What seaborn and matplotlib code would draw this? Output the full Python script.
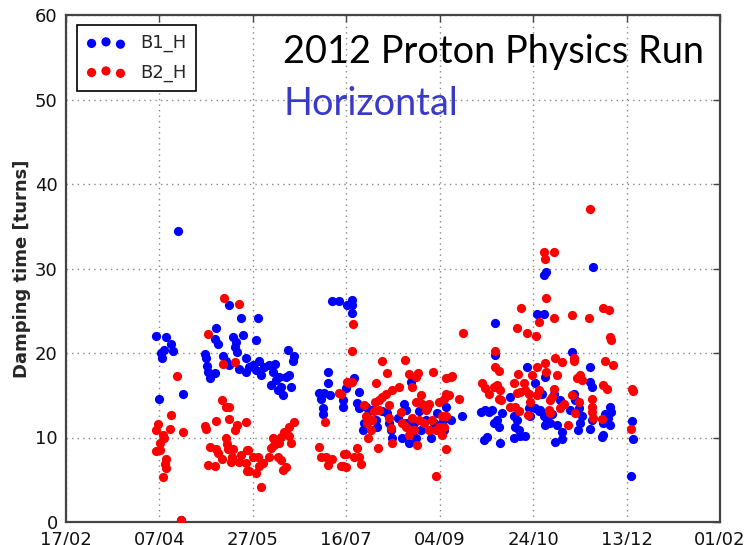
import numpy as np
import pandas as pd
import matplotlib
matplotlib.use("Agg")
import matplotlib.pyplot as plt
import matplotlib.dates as mdates
import seaborn as sns

# ---------------- data (day offset from 2012-02-17, damping time) -------------
start_date = "2012-02-17"
tick_labels = ["17/02", "07/04", "27/05", "16/07", "04/09", "24/10", "13/12", "01/02"]
series_names = ["B1_H", "B2_H"]

b1_day = [59.9, 48.4, 53.7, 56.4, 57.3, 52.3, 51.6, 51.0, 49.8, 62.6, 61.4,
          80.4, 87.1, 93.8, 80.0, 81.3, 89.3, 91.1, 90.2, 91.6, 94.6, 74.2, 75.1,
          75.4, 75.9, 76.8, 79.5, 83.9, 85.4, 87.5, 92.5, 96.4, 96.4, 102.6, 101.8,
          98.2, 99.9, 101.8, 103.5, 104.4, 106.2, 108.9, 110.6, 112.1, 109.8, 112.4,
          114.2, 115.1, 116.0, 117.8, 119.5, 120.4, 118.6, 122.2, 121.3, 113.3,
          142.6, 146.2, 150.6, 140.0, 140.0, 135.5, 136.4, 138.2, 141.2, 137.3, 137.7,
          148.0, 148.0, 149.8, 153.3, 153.3, 153.0, 154.2, 156.9, 156.0, 156.9,
          160.4, 162.2, 164.0, 159.6, 158.7, 165.8, 166.6, 169.3, 172.0, 172.9, 173.8,
          174.3, 177.9, 180.9, 181.8, 181.8, 180.0, 183.6, 184.4, 186.2, 188.9, 187.1,
          189.8, 192.4, 193.3, 195.6, 196.9, 198.7, 201.3, 202.2, 203.1, 184.4,
          229.8, 252.0, 255.6, 256.8, 229.8, 246.7, 256.5, 204.0, 205.8, 212.0, 224.5,
          222.3, 226.2, 228.0, 230.7, 231.6, 228.9, 225.3, 223.6, 232.0, 233.4, 237.8,
          239.6, 241.3, 240.4, 242.3, 243.2, 240.0, 245.8, 247.6, 248.5, 251.1, 252.9,
          256.5, 256.5, 251.1, 282.3, 255.6, 270.7, 280.5, 280.5, 281.4, 254.7, 260.9,
          264.5, 271.6, 272.5, 269.5, 274.3, 276.0, 275.2, 273.9, 253.8, 255.6, 257.4,
          259.2, 260.0, 262.7, 265.3, 261.8, 265.7, 280.5, 281.4, 287.6, 287.6, 286.7,
          291.2, 291.7, 290.3, 291.2, 288.5, 302.7, 303.3, 302.4]
b1_val = [34.4, 22.0, 21.9, 21.1, 20.2, 20.4, 19.4, 20.0, 14.6, 15.1, 0.2,
          22.9, 25.7, 24.2, 21.7, 21.1, 21.9, 21.3, 20.7, 20.1, 22.1, 19.9, 19.4,
          18.5, 17.8, 17.0, 17.6, 19.6, 19.0, 18.6, 18.1, 19.4, 17.8, 24.1, 21.5,
          18.4, 18.6, 18.0, 19.0, 17.4, 18.4, 18.6, 17.7, 18.7, 16.2, 16.8,
          17.2, 16.0, 15.0, 17.2, 17.4, 16.0, 20.4, 19.6, 19.1, 15.6,
          26.2, 26.2, 25.7, 17.8, 16.4, 15.3, 14.5, 15.3, 15.0, 13.5, 12.8,
          14.4, 13.6, 15.8, 26.3, 25.7, 24.7, 17.0, 15.4, 14.1, 13.5,
          13.6, 13.1, 13.3, 11.7, 10.9, 12.1, 11.2, 13.1, 12.9, 11.7, 10.9,
          9.9, 12.3, 14.0, 13.3, 11.7, 9.9, 9.3, 10.5, 11.7, 13.1, 9.9,
          10.9, 12.1, 13.5, 9.9, 11.7, 12.9, 11.7, 10.9, 13.6, 16.6,
          23.6, 24.6, 24.6, 29.6, 19.8, 18.3, 17.2, 12.3, 12.1, 12.5, 13.3,
          13.0, 13.0, 13.3, 12.1, 11.3, 11.7, 10.1, 9.7, 9.4, 12.9, 14.8,
          12.5, 12.1, 11.3, 10.9, 10.2, 9.9, 10.2, 13.5, 12.5, 13.5, 13.1,
          12.7, 11.5, 16.4, 30.2, 29.2, 20.1, 18.4, 16.6, 16.0, 15.2, 15.1,
          14.4, 15.1, 14.4, 13.3, 13.5, 12.5, 11.7, 10.9, 13.3, 12.5, 12.1,
          11.7, 12.8, 11.5, 10.6, 9.5, 9.8, 11.0, 12.1, 11.7, 10.3, 10.1,
          13.6, 13.0, 12.3, 11.5, 12.8, 11.9, 9.8, 5.5]

b2_day = [59.6, 56.4, 55.5, 62.6, 49.3, 48.4, 51.8, 52.3, 50.2, 48.4, 50.5, 53.7,
          52.8, 53.7, 51.9, 61.4, 84.5, 92.5, 75.9, 83.9, 90.2, 83.6, 85.4, 87.5,
          80.4, 87.1, 74.2, 75.1, 91.6, 90.7, 96.4, 85.4, 86.1, 86.6, 76.8, 80.4,
          81.3, 89.6, 89.0, 93.8, 96.7, 83.6, 88.4, 92.8, 75.9, 79.5, 96.7, 104.4,
          138.7, 146.2, 150.6, 135.5, 136.4, 139.1, 140.0, 142.6, 147.1, 149.8,
          97.3, 99.9, 96.4, 98.2, 102.6, 103.5, 105.3, 101.8, 109.8, 110.6, 111.5,
          114.2, 115.1, 116.9, 119.2, 120.4, 122.2, 119.5, 113.3, 115.1, 116.0,
          117.8, 108.9, 153.7, 153.3, 151.5, 153.3, 147.1, 148.9, 148.0, 149.8,
          154.2, 156.0, 156.9, 157.8, 169.0, 181.4, 172.0, 165.8, 183.6, 188.6,
          187.4, 196.5, 203.5, 178.2, 174.7, 185.3, 189.8, 187.1, 171.1, 169.3,
          167.6, 165.4, 172.9, 190.7, 192.4, 194.2, 199.6, 202.2, 203.5, 159.6,
          160.4, 161.3, 163.1, 164.0, 164.9, 167.6, 172.9, 173.8, 174.7, 179.1,
          180.0, 181.8, 183.6, 185.3, 188.9, 186.2, 191.6, 194.2, 196.0, 197.8,
          199.6, 203.1, 161.8, 167.1, 188.0, 197.8, 212.5, 255.6, 256.1, 256.8,
          243.7, 241.3, 246.7, 251.5, 252.9, 229.8, 229.8, 231.6, 241.9, 239.6,
          249.3, 252.0, 256.5, 256.8, 222.7, 224.5, 226.2, 228.9, 230.7, 232.5,
          231.6, 233.0, 244.9, 245.8, 247.6, 252.9, 243.2, 241.3, 237.8, 240.4,
          248.5, 252.0, 210.2, 205.8, 206.7, 204.9, 201.3, 202.2, 201.3, 203.1,
          242.3, 247.2, 280.5, 260.9, 260.9, 270.7, 280.0, 287.6, 290.8, 291.2,
          291.7, 261.8, 265.3, 271.6, 272.1, 273.4, 275.2, 276.0, 288.5, 293.0,
          262.7, 287.6, 289.4, 302.7, 303.6, 260.9, 260.0, 270.7, 274.3, 259.2,
          258.4, 259.2, 264.5, 266.3, 272.5, 281.4, 281.4, 281.4, 282.3, 286.7,
          268.9, 302.4]
b2_val = [17.3, 12.7, 11.0, 10.6, 11.6, 10.9, 10.3, 9.9, 9.3, 8.4, 8.5, 7.5,
          6.9, 6.4, 5.3, 0.2, 26.5, 25.8, 22.2, 18.7, 18.9, 14.4, 13.6, 13.6,
          12.0, 12.2, 11.4, 11.0, 11.5, 10.9, 11.8, 9.9, 9.2, 8.6, 8.9, 8.6,
          8.2, 8.6, 7.7, 7.9, 8.5, 7.4, 7.1, 7.1, 6.7, 6.6, 6.0, 4.2,
          11.8, 15.3, 16.6, 8.9, 7.7, 7.7, 6.7, 7.4, 6.6, 8.1,
          8.5, 7.7, 7.0, 6.0, 7.7, 6.6, 7.0, 5.8, 8.7, 9.9, 9.1,
          9.3, 10.1, 10.7, 11.2, 9.3, 11.8, 10.2, 7.7, 7.3, 6.2,
          6.5, 7.7, 23.4, 20.2, 16.5, 16.6, 15.2, 8.1, 6.6, 6.5,
          7.7, 8.7, 7.7, 6.9, 19.0, 19.2, 17.6, 16.5, 17.5, 17.6,
          17.2, 17.8, 17.0, 16.0, 15.6, 16.0, 15.0, 14.2, 15.2, 14.8,
          14.4, 14.2, 13.8, 14.0, 13.3, 14.0, 14.2, 14.6, 15.2, 13.8,
          12.5, 11.7, 10.9, 12.1, 13.1, 13.3, 12.3, 11.1, 9.3, 13.0,
          11.7, 11.3, 10.3, 12.3, 12.1, 10.9, 11.7, 10.9, 12.1, 10.9,
          11.3, 12.5, 9.9, 8.7, 9.1, 5.4, 22.4, 31.9, 31.1, 26.5,
          25.3, 23.0, 22.4, 22.0, 23.7, 20.2, 18.4, 17.9, 17.5, 16.5,
          17.4, 18.3, 18.8, 17.8, 16.4, 15.8, 15.2, 16.0, 16.2, 15.6,
          14.6, 14.4, 16.4, 15.6, 15.2, 15.6, 15.4, 15.3, 13.6, 13.6,
          14.2, 15.0, 14.6, 17.2, 17.3, 15.0, 12.5, 11.3, 10.3, 8.6,
          13.1, 12.7, 37.1, 31.9, 24.1, 24.5, 24.2, 25.3, 25.1, 21.9,
          21.5, 19.4, 18.9, 19.4, 19.0, 17.1, 17.4, 16.8, 19.1, 18.6,
          17.4, 16.2, 15.7, 15.7, 15.5, 15.7, 14.8, 15.0, 14.2, 14.4,
          13.3, 12.9, 13.5, 14.0, 12.9, 14.6, 13.6, 13.0, 12.3, 12.2,
          11.5, 11.0]

title_line1 = "2012 Proton Physics Run"
title_line2 = "Horizontal"
y_label = "Damping time [turns]"

# ---------------- build frames ----------------
t0 = pd.Timestamp(start_date)
df1 = pd.DataFrame({"date": t0 + pd.to_timedelta(b1_day, unit="D"), "val": b1_val})
df2 = pd.DataFrame({"date": t0 + pd.to_timedelta(b2_day, unit="D"), "val": b2_val})

sns.set_style("white")
plt.rcParams["font.family"] = ["DejaVu Sans"]

fig = plt.figure(figsize=(7.48, 5.45), dpi=100)
ax = fig.add_axes([66 / 748, 23 / 545, 654 / 748, 507 / 545])

sns.scatterplot(data=df1, x="date", y="val", color="#0000ff", s=44,
                linewidth=0, ax=ax, legend=False, zorder=3)
sns.scatterplot(data=df2, x="date", y="val", color="#ff0000", s=44,
                linewidth=0, ax=ax, legend=False, zorder=3)

tick_dates = [t0 + pd.Timedelta(days=50 * i) for i in range(len(tick_labels))]
ax.set_xticks([mdates.date2num(d) for d in tick_dates])
ax.set_xticklabels(tick_labels)
ax.set_xlim(mdates.date2num(tick_dates[0]), mdates.date2num(tick_dates[-1]))
ax.set_ylim(0, 60)
ax.set_yticks(range(0, 61, 10))

ax.grid(True, color="#888888", linestyle=(0, (1, 3)), linewidth=1.0, zorder=0)
ax.set_axisbelow(True)
for sp in ax.spines.values():
    sp.set_color("#444444")
    sp.set_linewidth(1.6)
ax.tick_params(direction="in", length=5, width=1, color="#444444",
               top=True, right=True, labelsize=13, labelcolor="#111111", pad=6)
ax.set_xlabel("")
ax.set_ylabel(y_label, fontsize=13, fontweight="bold", labelpad=3)

handles = ax.collections[:2]
leg = ax.legend(handles, series_names, loc="upper left", bbox_to_anchor=(0.017, 0.98),
                borderaxespad=0, scatterpoints=3, fontsize=13, frameon=True,
                fancybox=False, edgecolor="black", framealpha=1,
                handlelength=2.2, handletextpad=0.8, labelspacing=0.6,
                borderpad=0.5)
leg.get_frame().set_linewidth(1.2)

ax.text(0.332, 0.905, title_line1, transform=ax.transAxes, fontsize=27.3,
        family=["Lato", "DejaVu Sans"], color="black", va="baseline", ha="left")
ax.text(0.332, 0.803, title_line2, transform=ax.transAxes, fontsize=27.3,
        family=["Lato", "DejaVu Sans"], color="#3a3ac8", va="baseline", ha="left")

fig.savefig("out.png", dpi=100)
